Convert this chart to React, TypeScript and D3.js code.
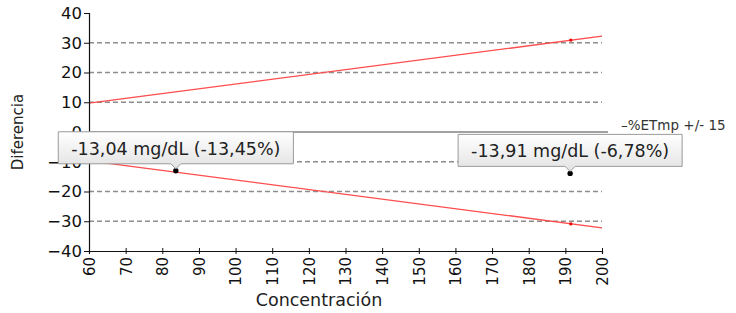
import React, { useEffect, useRef } from "react";
import * as d3 from "d3";

const xTicks = [60, 70, 80, 90, 100, 110, 120, 130, 140, 150, 160, 170, 180, 190, 200];
const yTicks = [-40, -30, -20, -10, 0, 10, 20, 30, 40];
const gridValues = [-30, -20, -10, 10, 20, 30];
const limitX = [60, 200];
const upperLimit = [9.7, 32.2];
const lowerLimit = [-9.7, -32.2];
const limitMarkers = [
  { x: 191.5, y: 30.9 },
  { x: 191.5, y: -30.9 },
];
const points = [
  { x: 83.7, y: -13.04, label: "-13,04 mg/dL (-13,45%)" },
  { x: 191.3, y: -13.91, label: "-13,91 mg/dL (-6,78%)" },
];
const legendLabel = "–%ETmp +/- 15";
const xTitle = "Concentración";
const yTitle = "Diferencia";

const W = 736;
const H = 313;
const FONT = "'DejaVu Sans', sans-serif";

export default function App() {
  const ref = useRef<SVGSVGElement>(null);

  useEffect(() => {
    const svg = d3.select(ref.current);
    svg.selectAll("*").remove();

    const x = d3.scaleLinear().domain([60, 200]).range([89, 602]);
    const y = d3.scaleLinear().domain([-40, 40]).range([251, 13]);

    const defs = svg.append("defs");
    const grad = defs
      .append("linearGradient")
      .attr("id", "tipGrad")
      .attr("x1", 0)
      .attr("y1", 0)
      .attr("x2", 0)
      .attr("y2", 1);
    grad.append("stop").attr("offset", "0%").attr("stop-color", "#ffffff");
    grad.append("stop").attr("offset", "100%").attr("stop-color", "#e2e2e2");

    // grid lines
    svg
      .append("g")
      .selectAll("line")
      .data(gridValues)
      .join("line")
      .attr("x1", x(60))
      .attr("x2", x(200))
      .attr("y1", (d) => y(d))
      .attr("y2", (d) => y(d))
      .attr("stroke", "#8c8c8c")
      .attr("stroke-width", 1.3)
      .attr("stroke-dasharray", "5,3");

    // zero line
    svg
      .append("line")
      .attr("x1", x(60))
      .attr("x2", x(200) + 6)
      .attr("y1", y(0))
      .attr("y2", y(0))
      .attr("stroke", "#444")
      .attr("stroke-width", 1);

    // limit lines
    const line = d3
      .line<number>()
      .x((_, i) => x(limitX[i]))
      .y((d) => y(d));
    [upperLimit, lowerLimit].forEach((arr) => {
      svg
        .append("path")
        .attr("d", line(arr))
        .attr("fill", "none")
        .attr("stroke", "#ff4c4c")
        .attr("stroke-width", 1.3);
    });
    svg
      .append("g")
      .selectAll("circle")
      .data(limitMarkers)
      .join("circle")
      .attr("cx", (d) => x(d.x))
      .attr("cy", (d) => y(d.y))
      .attr("r", 1.6)
      .attr("fill", "#ee0000");

    // axes
    const yAxis = svg
      .append("g")
      .attr("transform", `translate(${x(60)},0)`)
      .call(d3.axisLeft(y).tickValues(yTicks).tickSize(5).tickPadding(2));
    yAxis.select(".domain").attr("stroke", "#111").attr("stroke-width", 1.2);
    yAxis.selectAll(".tick line").attr("stroke", "#111");
    yAxis
      .selectAll(".tick text")
      .attr("font-family", FONT)
      .attr("font-size", 16.5)
      .attr("fill", "#111");

    const xAxis = svg
      .append("g")
      .attr("transform", `translate(0,${y(-40)})`)
      .call(d3.axisBottom(x).tickValues(xTicks).tickSize(3).tickPadding(2));
    xAxis.select(".domain").attr("stroke", "#111").attr("stroke-width", 1.2);
    xAxis.selectAll(".tick line").attr("stroke", "#111").attr("y1", -3);
    xAxis
      .selectAll(".tick text")
      .attr("font-family", FONT)
      .attr("font-size", 15)
      .attr("fill", "#111")
      .attr("text-anchor", "end")
      .attr("dy", "0.36em")
      .attr("transform", "translate(0,6) rotate(-90)")
      .attr("x", 0)
      .attr("y", 0);

    // titles
    svg
      .append("text")
      .attr("x", 319)
      .attr("y", 306)
      .attr("text-anchor", "middle")
      .attr("font-family", FONT)
      .attr("font-size", 17.5)
      .attr("fill", "#222")
      .text(xTitle);
    svg
      .append("text")
      .attr("transform", `translate(23,${y(0)}) rotate(-90)`)
      .attr("text-anchor", "middle")
      .attr("font-family", FONT)
      .attr("font-size", 15)
      .attr("fill", "#222")
      .text(yTitle);

    // legend
    svg
      .append("text")
      .attr("x", 621)
      .attr("y", 130)
      .attr("font-family", FONT)
      .attr("font-size", 13.5)
      .attr("fill", "#333")
      .text(legendLabel);

    // points
    svg
      .append("g")
      .selectAll("circle")
      .data(points)
      .join("circle")
      .attr("cx", (d) => x(d.x))
      .attr("cy", (d) => y(d.y))
      .attr("r", 2.7)
      .attr("fill", "#000");

    // tooltips
    points.forEach((p) => {
      const px = x(p.x);
      const py = y(p.y);
      const g = svg.append("g");
      const bottom = py - 7;
      const h = 32;
      const txt = g
        .append("text")
        .attr("x", px)
        .attr("y", bottom - 9)
        .attr("text-anchor", "middle")
        .attr("font-family", FONT)
        .attr("font-size", 17.5)
        .attr("fill", "#222")
        .text(p.label);
      const w = (txt.node() as SVGTextElement).getComputedTextLength() + 26;
      const left = px - w / 2;
      const pathD = `M${left},${bottom - h} H${left + w} V${bottom} H${px + 5} L${px},${bottom + 5} L${px - 5},${bottom} H${left} Z`;
      g.insert("path", "text")
        .attr("d", pathD)
        .attr("fill", "url(#tipGrad)")
        .attr("stroke", "#9a9a9a")
        .attr("stroke-width", 1);
    });
  }, []);

  return (
    <svg
      ref={ref}
      width={W}
      height={H}
      style={{ position: "absolute", left: 0, top: 0, background: "#fff" }}
    />
  );
}
